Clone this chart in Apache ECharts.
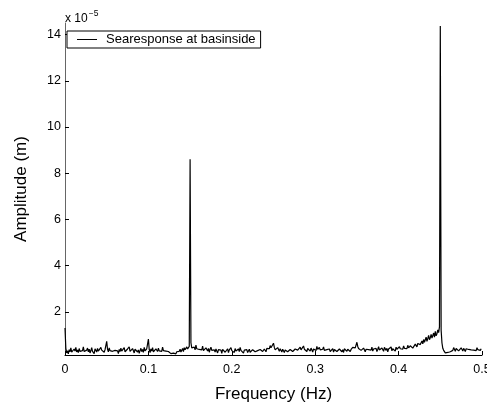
<!DOCTYPE html>
<html>
<head>
<meta charset="utf-8">
<script src="https://cdn.jsdelivr.net/npm/echarts@6/dist/echarts.min.js"></script>
<style>
  html, body { margin: 0; padding: 0; background: #fff; }
  #chart { width: 487px; height: 405px; }
</style>
</head>
<body>
<div id="chart"></div>
<script>
// Amplitude spectrum of the sea response at the basin side (units of 1e-5 m)
const freqStep = 0.001; // Hz between spectrum bins
const amplitude = [
  1.30,0.42,0.22,0.31,0.18,0.36,0.27,0.44,0.25,0.33,0.21,0.39,0.30,0.46,0.26,0.35,0.23,0.41,0.29,0.37,
  0.24,0.32,0.48,0.28,0.36,0.20,0.34,0.43,0.27,0.38,0.22,0.31,0.45,0.29,0.35,0.19,0.40,0.33,0.26,0.42,
  0.30,0.37,0.23,0.46,0.34,0.28,0.41,0.25,0.36,0.31,0.72,0.38,0.27,0.44,0.32,0.24,0.39,0.29,0.35,0.22,
  0.33,0.40,0.26,0.31,0.19,0.37,0.28,0.43,0.30,0.24,0.36,0.45,0.27,0.34,0.21,0.39,0.32,0.48,0.29,0.35,
  0.25,0.41,0.33,0.22,0.38,0.30,0.44,0.26,0.35,0.20,0.32,0.42,0.28,0.37,0.24,0.46,0.31,0.27,0.40,0.34,
  0.82,0.36,0.23,0.39,0.30,0.45,0.27,0.33,0.21,0.40,0.35,0.28,0.43,0.31,0.25,0.38,0.29,0.47,0.32,0.26,
  0.37,0.30,0.24,0.35,0.28,0.22,0.31,0.19,0.26,0.17,0.21,0.15,0.20,0.18,0.27,0.23,0.33,0.29,0.38,0.26,
  0.34,0.41,0.28,0.45,0.36,0.31,0.48,0.39,0.33,0.50,8.60,0.66,0.44,0.52,0.38,0.47,0.35,0.56,0.40,0.33,
  0.46,0.37,0.29,0.43,0.35,0.51,0.32,0.40,0.27,0.44,0.36,0.30,0.42,0.25,0.38,0.47,0.33,0.28,0.41,0.35,
  0.26,0.39,0.31,0.22,0.36,0.44,0.29,0.34,0.20,0.37,0.30,0.42,0.25,0.33,0.28,0.40,0.23,0.35,0.31,0.45,
  0.32,0.27,0.38,0.24,0.41,0.30,0.35,0.22,0.39,0.28,0.46,0.33,0.26,0.37,0.21,0.34,0.42,0.29,0.36,0.24,
  0.31,0.38,0.25,0.33,0.20,0.36,0.29,0.42,0.27,0.35,0.19,0.32,0.40,0.26,0.37,0.30,0.44,0.28,0.34,0.39,
  0.33,0.27,0.42,0.36,0.48,0.40,0.54,0.44,0.50,0.38,0.64,0.46,0.35,0.42,0.31,0.45,0.37,0.29,0.40,0.33,
  0.26,0.38,0.31,0.24,0.35,0.29,0.41,0.27,0.33,0.22,0.37,0.30,0.43,0.28,0.36,0.25,0.39,0.32,0.46,0.34,
  0.40,0.29,0.47,0.35,0.42,0.31,0.52,0.38,0.33,0.45,0.28,0.41,0.36,0.49,0.30,0.43,0.37,0.26,0.39,0.34,
  0.44,0.32,0.50,0.37,0.29,0.46,0.35,0.41,0.27,0.38,0.48,0.33,0.40,0.25,0.36,0.43,0.31,0.39,0.28,0.35,
  0.30,0.41,0.26,0.37,0.33,0.45,0.28,0.34,0.22,0.39,0.31,0.43,0.27,0.36,0.24,0.40,0.32,0.47,0.29,0.38,
  0.33,0.42,0.28,0.37,0.31,0.46,0.39,0.52,0.44,0.48,0.68,0.50,0.41,0.36,0.45,0.33,0.39,0.29,0.43,0.35,
  0.27,0.38,0.32,0.44,0.36,0.29,0.41,0.34,0.47,0.30,0.39,0.45,0.33,0.42,0.28,0.37,0.49,0.35,0.40,0.31,
  0.43,0.36,0.29,0.46,0.38,0.33,0.42,0.27,0.39,0.45,0.34,0.48,0.31,0.40,0.36,0.44,0.30,0.47,0.38,0.42,
  0.35,0.49,0.40,0.33,0.46,0.38,0.52,0.42,0.36,0.48,0.41,0.55,0.44,0.39,0.53,0.47,0.58,0.43,0.51,0.46,
  0.60,0.52,0.48,0.63,0.55,0.70,0.58,0.66,0.74,0.61,0.80,0.68,0.76,0.90,0.72,0.84,0.98,0.79,0.88,1.02,
  0.86,0.94,1.08,0.90,1.15,0.96,1.05,1.22,1.10,1.35,14.37,1.20,0.65,0.42,0.33,0.28,0.22,0.26,0.19,0.24,
  0.30,0.21,0.27,0.35,0.24,0.33,0.45,0.38,0.29,0.41,0.34,0.48,0.31,0.39,0.27,0.44,0.36,0.30,0.42,0.35,
  0.28,0.40,0.33,0.46,0.37,0.31,0.43,0.35,0.29,0.41,0.34,0.27,0.39,0.32,0.45,0.36,0.30,0.38,0.33,0.40,
  0.35
];
const xTicks = [0, 0.1, 0.2, 0.3, 0.4, 0.5];
const yTicks = [2, 4, 6, 8, 10, 12, 14];
const seriesName = 'Searesponse at basinside';

const points = amplitude.map((a, i) => [+(i * freqStep).toFixed(3), a]);
const font = '"Liberation Sans", Arial, Helvetica, sans-serif';

const chart = echarts.init(document.getElementById('chart'), null, { renderer: 'canvas' });
chart.setOption({
  animation: false,
  backgroundColor: '#fff',
  textStyle: { fontFamily: font },
  grid: { left: 65, right: 5, top: 23, bottom: 50, containLabel: false, outerBoundsMode: 'none' },
  legend: {
    data: [{ name: seriesName, icon: 'rect' }],
    left: 67, top: 31,
    orient: 'vertical',
    backgroundColor: '#fff',
    borderColor: '#000', borderWidth: 1, borderRadius: 0,
    padding: [2, 5, 2, 10],
    itemWidth: 20, itemHeight: 1,
    itemStyle: { color: '#000' },
    textStyle: { fontFamily: font, fontSize: 13, color: '#000', padding: [0, 0, 0, 4] }
  },
  xAxis: {
    type: 'value', min: 0, max: 0.5, interval: 0.1,
    name: 'Frequency (Hz)', nameLocation: 'middle', nameGap: 31,
    nameTextStyle: { fontFamily: font, fontSize: 17, color: '#000' },
    axisLine: { onZero: false, lineStyle: { color: '#000', width: 1 } },
    axisTick: { inside: true, length: 4, lineStyle: { color: '#000' }, customValues: xTicks },
    axisLabel: { fontFamily: font, fontSize: 12.5, color: '#000', margin: 8,
                 customValues: xTicks, formatter: v => String(v) },
    splitLine: { show: false }
  },
  yAxis: {
    type: 'value', min: 0.13, max: 14.5,
    name: 'Amplitude (m)', nameLocation: 'middle', nameGap: 35, nameRotate: 90,
    nameTextStyle: { fontFamily: font, fontSize: 17, color: '#000' },
    axisLine: { show: true, onZero: false, lineStyle: { color: '#666', width: 1 } },
    axisTick: { show: true, inside: true, length: 4, lineStyle: { color: '#000' }, customValues: yTicks },
    axisLabel: { fontFamily: font, fontSize: 12.5, color: '#000', margin: 4, customValues: yTicks },
    splitLine: { show: false }
  },
  graphic: [{
    type: 'text', left: 65, top: 9,
    style: {
      text: '{b|x 10}{s|−5}',
      rich: {
        b: { fontFamily: font, fontSize: 12, fill: '#000', verticalAlign: 'bottom' },
        s: { fontFamily: font, fontSize: 8.5, fill: '#000', verticalAlign: 'top', padding: [0, 0, 7, 1] }
      }
    }
  }],
  series: [{
    name: seriesName,
    type: 'line',
    data: points,
    symbol: 'none',
    clip: true,
    lineStyle: { color: '#000', width: 1.2 },
    itemStyle: { color: '#000' }
  }]
});
</script>
</body>
</html>
